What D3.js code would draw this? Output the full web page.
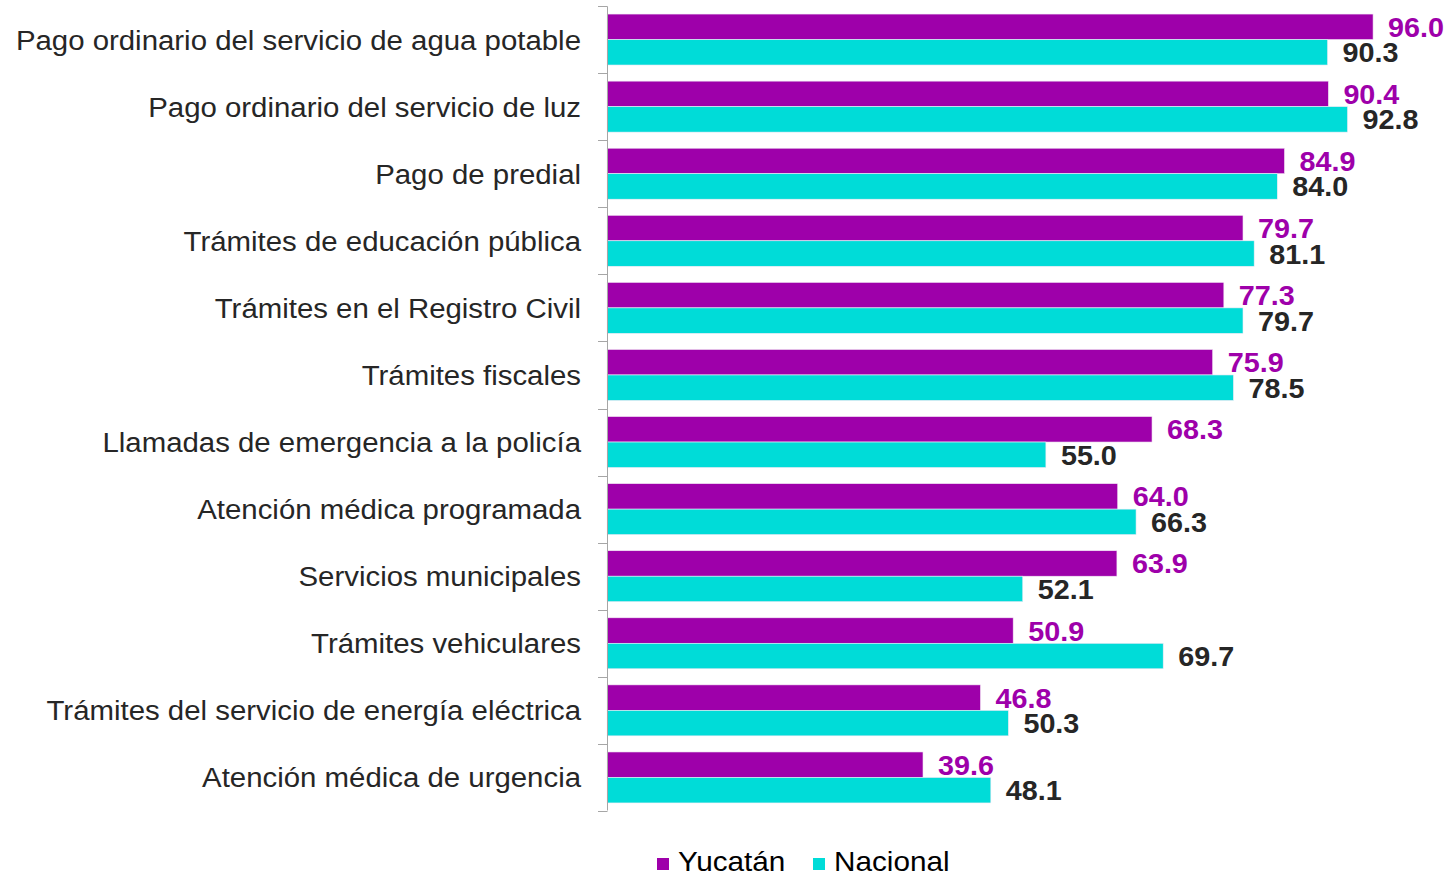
<!DOCTYPE html>
<html><head><meta charset="utf-8">
<script src="https://cdn.jsdelivr.net/npm/d3@7"></script>
<style>body{margin:0;background:#fff}svg{display:block}</style>
</head><body>
<svg id="c" width="1448" height="877"></svg>
<script>
const categories = ["Pago ordinario del servicio de agua potable","Pago ordinario del servicio de luz","Pago de predial","Trámites de educación pública","Trámites en el Registro Civil","Trámites fiscales","Llamadas de emergencia a la policía","Atención médica programada","Servicios municipales","Trámites vehiculares","Trámites del servicio de energía eléctrica","Atención médica de urgencia"];
const seriesNames = ["Yucatán","Nacional"];
const yucatan = [96.0,90.4,84.9,79.7,77.3,75.9,68.3,64.0,63.9,50.9,46.8,39.6];
const nacional = [90.3,92.8,84.0,81.1,79.7,78.5,55.0,66.3,52.1,69.7,50.3,48.1];
const colors = ["#9E00AA","#00DCD8"];
const labelColors = ["#9E00AA","#262626"];

const svg = d3.select("#c");
const font = "'Liberation Sans', Arial, sans-serif";
const x = d3.scaleLinear().domain([0,100]).range([607,1405]);
const y = d3.scaleBand().domain(categories).range([6,811]).paddingInner(0.24).paddingOuter(0.12);
const ys = d3.scaleBand().domain(seriesNames).range([0,y.bandwidth()]);
const series = [yucatan, nacional];

const g = svg.append("g");
series.forEach((vals,si)=>{
  g.selectAll(".b"+si).data(categories).enter().append("rect")
    .attr("x",x(0)).attr("y",(d)=>y(d)+ys(seriesNames[si]))
    .attr("width",(d,i)=>x(vals[i])-x(0)).attr("height",ys.bandwidth())
    .attr("fill",colors[si]).attr("stroke","#f4eaf6").attr("stroke-width",0.6);
  g.selectAll(".l"+si).data(categories).enter().append("text")
    .attr("transform",(d,i)=>`translate(${x(vals[i])+15},${y(d)+ys(seriesNames[si])+ys.bandwidth()/2+10}) scale(1.065,1)`)
    .attr("fill",labelColors[si]).attr("font-family",font).attr("font-weight","bold").attr("font-size",27)
    .text((d,i)=>vals[i].toFixed(1));
});

// axis
const yAxisScale = d3.scaleBand().domain(categories).range([6,811]);
svg.append("path").attr("fill","none").attr("stroke","#a6a6a6")
  .attr("d","M607.5,6.5V810.5");
const bounds = d3.range(categories.length+1).map(i=>6+i*yAxisScale.step());
svg.append("g").selectAll("line").data(bounds).enter().append("line")
  .attr("x1",598).attr("x2",607.5).attr("y1",d=>Math.round(d)+0.5).attr("y2",d=>Math.round(d)+0.5)
  .attr("stroke","#a6a6a6");
svg.append("g").selectAll("text").data(categories).enter().append("text")
  .attr("transform",d=>`translate(581,${yAxisScale(d)+yAxisScale.bandwidth()/2+10}) scale(1.05,1)`)
  .attr("text-anchor","end").attr("font-family",font).attr("font-size",28).attr("fill","#262626")
  .text(d=>d);

// legend
const leg = svg.append("g");
const legX = [657, 813];
seriesNames.forEach((n,i)=>{
  leg.append("rect").attr("x",legX[i]).attr("y",858).attr("width",12).attr("height",12).attr("fill",colors[i]);
  leg.append("text").attr("transform",`translate(${legX[i]+21},871) scale(1.08,1)`).attr("font-family",font).attr("font-size",27.5)
    .attr("fill","#000").text(n);
});
</script>
</body></html>
